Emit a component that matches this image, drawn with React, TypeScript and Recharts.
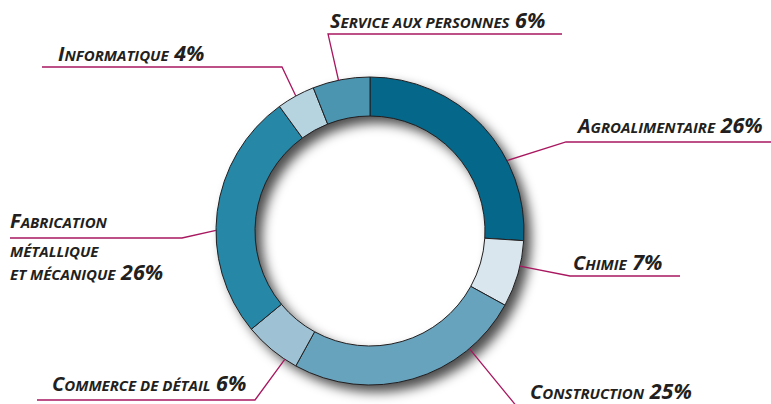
import React from 'react';
import { PieChart, Pie, Cell } from 'recharts';

// sectors clockwise from 12 o'clock
const SECTORS = [
  'Agroalimentaire',
  'Chimie',
  'Construction',
  'Commerce de détail',
  'Fabrication métallique et mécanique',
  'Informatique',
  'Service aux personnes',
];
const SHARES = [26, 7, 25, 6, 26, 4, 6];
const LABEL_LINES = [
  ['Agroalimentaire'],
  ['Chimie'],
  ['Construction'],
  ['Commerce de détail'],
  ['Fabrication', 'métallique', 'et mécanique'],
  ['Informatique'],
  ['Service aux personnes'],
];
const COLORS = ['#05678a', '#d9e6ee', '#67a3bd', '#9ec2d4', '#2687a6', '#b6d3e0', '#4b95b1'];

// label placement: text origin, rule under first line, shift of leader along the ring (deg, clockwise)
const LABEL_LAYOUT = [
  { x: 578, y: 133, rule: [566, 771, 142], shift: 16 },
  { x: 573, y: 270, rule: [570, 680, 276], shift: -3 },
  { x: 530, y: 399, rule: [518, 771, 408], shift: -24 },
  { x: 52, y: 391, rule: [37, 255, 400], shift: -6, elbowRight: true },
  { x: 10, y: 228, rule: [10, 182, 238], shift: -7, elbowRight: true, lineGap: [0, 29, 52] },
  { x: 58, y: 61, rule: [42, 282, 67], shift: 0, elbowRight: true },
  { x: 330, y: 28, rule: [328, 562, 34], shift: -1 },
];

const data = SECTORS.map((name, i) => ({ name, value: SHARES[i] }));
const total = SHARES.reduce((a, b) => a + b, 0);

const INK = '#231f20';
const LEADER = '#a8175f';
const BIG = 20;
const SMALL = 15;
const PCT = 21.5;
const RADIAN = Math.PI / 180;

function smallCaps(text: string, key: string) {
  const runs: { big: boolean; s: string }[] = [];
  for (const ch of text) {
    const big = ch !== ch.toLowerCase();
    const last = runs[runs.length - 1];
    if (last && last.big === big) last.s += ch.toUpperCase();
    else runs.push({ big, s: ch.toUpperCase() });
  }
  return runs.map((r, i) => (
    <tspan key={key + i} fontSize={r.big ? BIG : SMALL}>
      {r.s}
    </tspan>
  ));
}

const renderLabel = (props: any) => {
  const { cx, cy, outerRadius, midAngle, index, value } = props;
  const lay = LABEL_LAYOUT[index];
  const lines = LABEL_LINES[index];
  const ang = midAngle - lay.shift;
  const sx = cx + outerRadius * Math.cos(-ang * RADIAN);
  const sy = cy + outerRadius * Math.sin(-ang * RADIAN);
  const [r1, r2, ry] = lay.rule;
  const ex = lay.elbowRight ? r2 : r1;
  const gaps = lay.lineGap || [0];
  return (
    <g key={'lbl' + index}>
      <polyline
        points={`${sx},${sy} ${ex},${ry} ${lay.elbowRight ? r1 : r2},${ry}`}
        fill="none"
        stroke={LEADER}
        strokeWidth={1.3}
      />
      {lines.map((ln, li) => (
        <text
          key={li}
          x={lay.x}
          y={lay.y + gaps[li]}
          fill={INK}
          fontFamily="'Open Sans', sans-serif"
          fontStyle="italic"
          fontWeight={700}
        >
          {smallCaps(ln, 'l' + li)}
          {li === lines.length - 1 && (
            <tspan fontSize={PCT}>{' ' + value + '%'}</tspan>
          )}
        </text>
      ))}
    </g>
  );
};

export default function App() {
  return (
    <div style={{ position: 'absolute', left: 0, top: 0, width: 771, height: 404, background: '#fff' }}>
      <svg width={0} height={0} style={{ position: 'absolute' }}>
        <defs>
          <filter id="ringShadow" x="-20%" y="-20%" width="140%" height="140%">
            <feGaussianBlur stdDeviation={6} />
            <feOffset dx={7} dy={7} />
          </filter>
        </defs>
      </svg>
      <PieChart width={771} height={404} margin={{ top: 0, right: 0, bottom: 0, left: 0 }}>
        <Pie
          data={[{ name: 'total', value: total }]}
          dataKey="value"
          cx={370}
          cy={231}
          innerRadius={115}
          outerRadius={154}
          startAngle={90}
          endAngle={-270}
          stroke="none"
          isAnimationActive={false}
        >
          <Cell fill="#000" fillOpacity={0.7} filter="url(#ringShadow)" />
        </Pie>
        <Pie
          data={data}
          dataKey="value"
          nameKey="name"
          cx={370}
          cy={231}
          innerRadius={115}
          outerRadius={154}
          startAngle={90}
          endAngle={-270}
          stroke={INK}
          strokeWidth={1}
          label={renderLabel}
          labelLine={false}
          isAnimationActive={false}
        >
          {data.map((d, i) => (
            <Cell key={d.name} fill={COLORS[i]} />
          ))}
        </Pie>
      </PieChart>
    </div>
  );
}
